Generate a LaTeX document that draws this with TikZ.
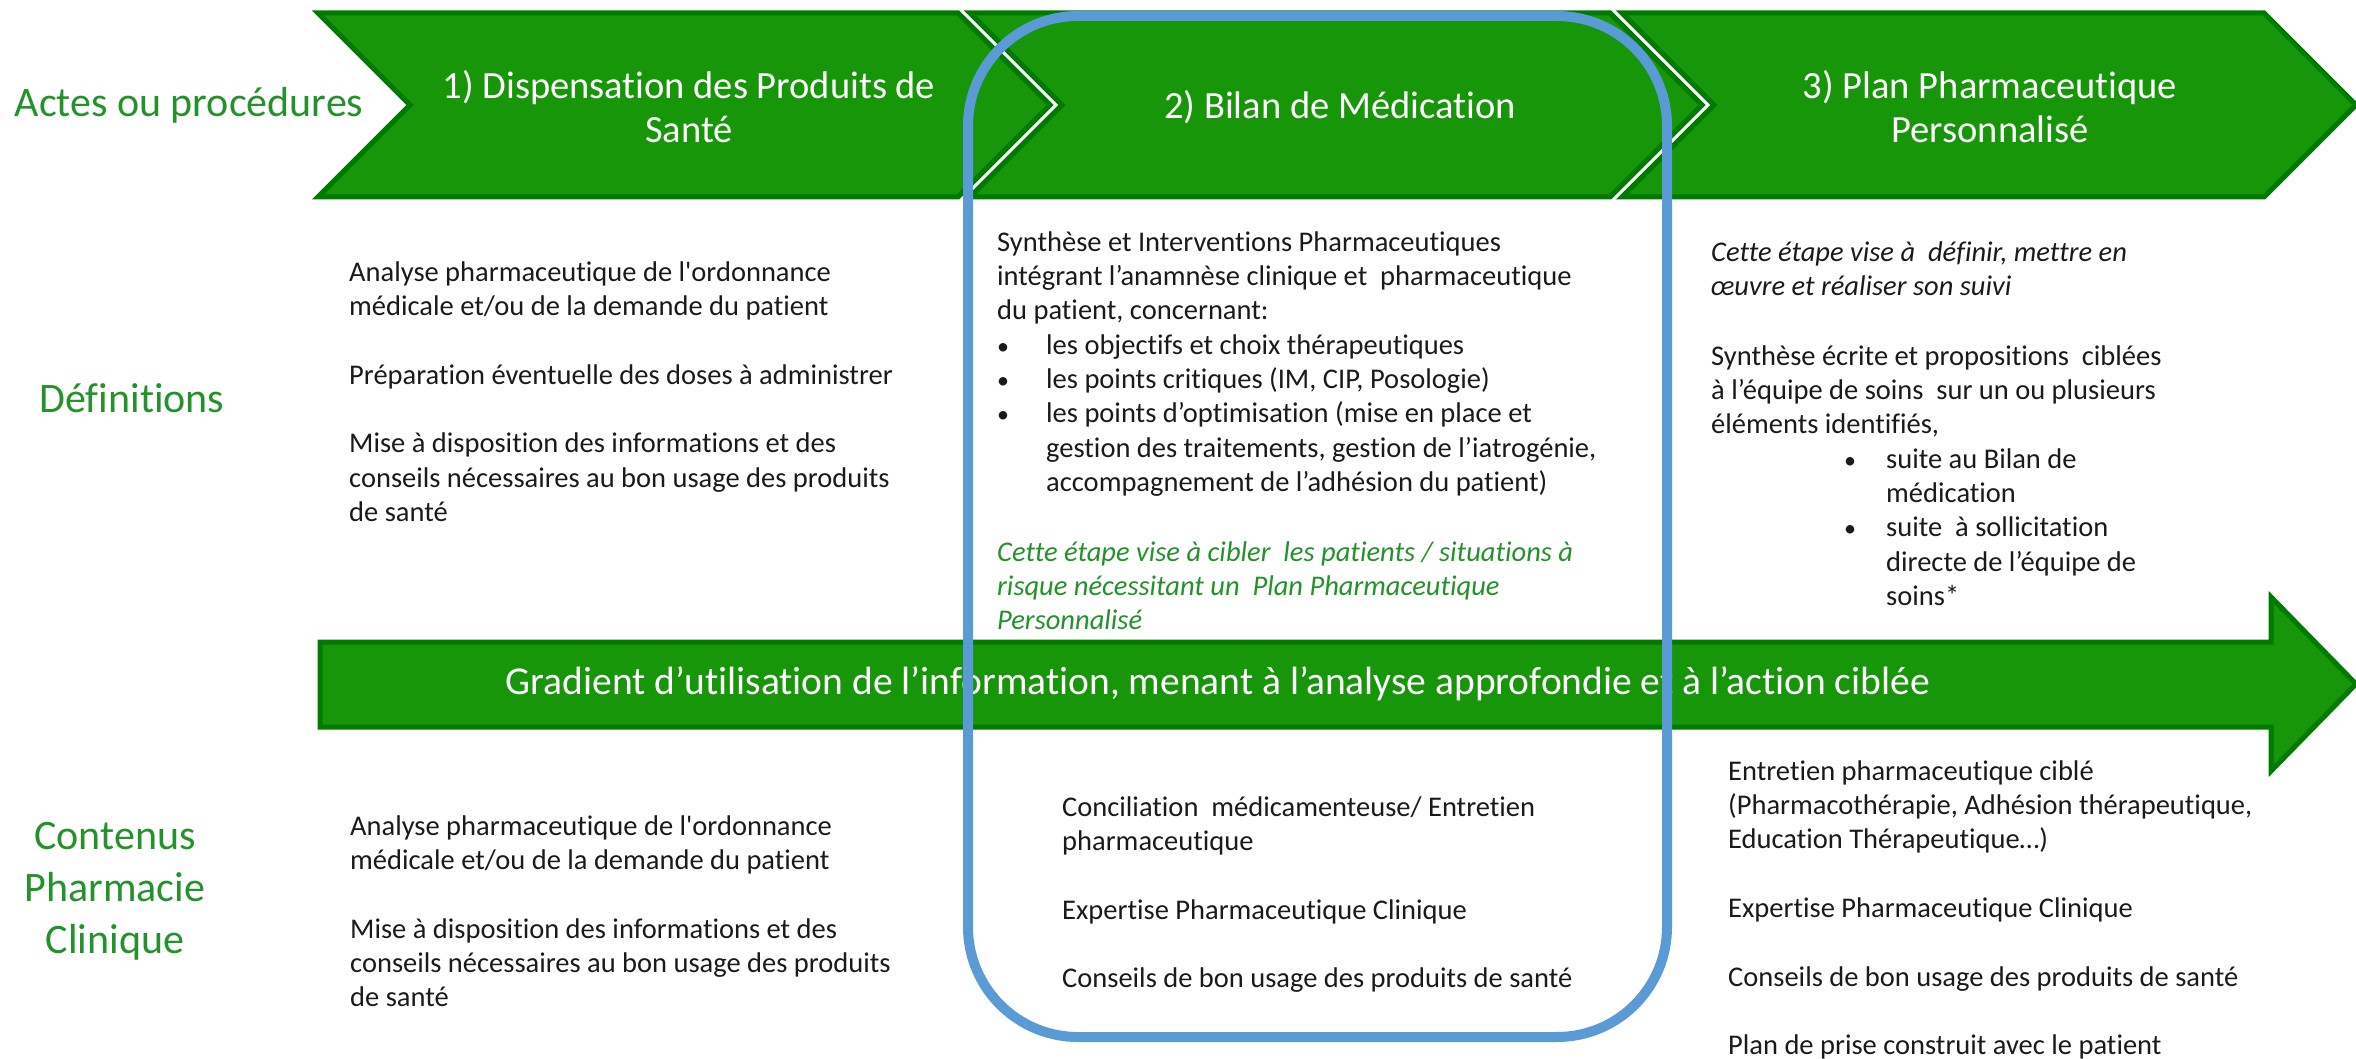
\documentclass[tikz,border=0pt]{standalone}
\usepackage{fontspec}
\setmainfont{Carlito}[Ligatures={TeX,NoCommon}]
\definecolor{gfill}{HTML}{169608}
\definecolor{gdark}{HTML}{007A00}
\definecolor{lblgreen}{HTML}{23922A}
\definecolor{frameblue}{HTML}{5B9BD5}
\definecolor{txt}{HTML}{1A1A1A}
\newcommand{\bul}{{\fontsize{24}{24}\selectfont •}}
\tikzset{
  chev/.style={fill=gfill, draw=gdark, line width=5pt, line join=miter},
  ttl/.style={text=white, font=\fontsize{38.5}{44}\selectfont, align=center, inner sep=0pt},
  lbl/.style={text=lblgreen, font=\fontsize{42}{52}\selectfont, align=center, inner sep=0pt},
  body/.style={text=txt, font=\fontsize{28.5}{34.3}\selectfont, align=left, anchor=north west, inner sep=0pt},
  gital/.style={body, text=lblgreen, font=\fontsize{28.5}{34.3}\selectfont\itshape},
  bital/.style={body, font=\fontsize{28.5}{34.3}\selectfont\itshape},
}
\begin{document}
\begin{tikzpicture}[x=1pt,y=-1pt]
\useasboundingbox (0,0) rectangle (2356,1059);
% chevrons
\path[chev] (318,13) -- (958,13) -- (1050,105) -- (958,197) -- (318,197) -- (410,105) -- cycle;
\path[chev] (970,13) -- (1610,13) -- (1702,105) -- (1610,197) -- (970,197) -- (1062,105) -- cycle;
\path[chev] (1622,13) -- (2264,13) -- (2356,105) -- (2264,197) -- (1622,197) -- (1714,105) -- cycle;
\node[ttl] (c1) at (689,107) {1) Dispensation des Produits de\\Santé};
\node[ttl] (c2) at (1340,107) {2) Bilan de Médication};
\node[ttl] (c3) at (1990,107) {3) Plan Pharmaceutique\\Personnalisé};
% gradient arrow
\path[chev] (320,642) -- (2271,642) -- (2271,597) -- (2356,684) -- (2271,771) -- (2271,727) -- (320,727) -- cycle;
\node[ttl, font=\fontsize{39.5}{44}\selectfont] (grad) at (1218,684) {Gradient d’utilisation de l’information, menant à l’analyse approfondie et à l’action ciblée};
% left labels
\node[lbl] (actes) at (189,105) {Actes ou procédures};
\node[lbl] (defs) at (132,398) {Définitions};
\node[lbl] (cont) at (115,891) {Contenus\\Pharmacie\\Clinique};
% definitions
\node[body] (d1) at (349,257) {\strut Analyse pharmaceutique de l\textquotesingle ordonnance\\médicale et/ou de la demande du patient\\[34.3pt]Préparation éventuelle des doses à administrer\\[34.3pt]Mise à disposition des informations et des\\conseils nécessaires au bon usage des produits\\de santé};
\node[body] (d2) at (997,227) {\strut Synthèse et Interventions Pharmaceutiques\\intégrant l’anamnèse clinique et\ \ pharmaceutique\\du patient, concernant:\\\makebox[49pt][l]{\bul}les objectifs et choix thérapeutiques\\\makebox[49pt][l]{\bul}les points critiques (IM, CIP, Posologie)\\\makebox[49pt][l]{\bul}les points d’optimisation (mise en place et\\\hspace*{49pt}gestion des traitements, gestion de l’iatrogénie,\\\hspace*{49pt}accompagnement de l’adhésion du patient)};
\node[gital] (d2b) at (997,537) {\strut Cette étape vise à cibler\ \ les patients / situations à\\risque nécessitant un\ \ Plan Pharmaceutique\\Personnalisé};
\node[bital] (d3a) at (1711,237) {\strut Cette étape vise à\ \ définir, mettre en\\œuvre et réaliser son suivi};
\node[body] (d3b) at (1711,341) {\strut Synthèse écrite et propositions\ \ ciblées\\à l’équipe de soins\ \ sur un ou plusieurs\\éléments identifiés,\\\hspace*{133pt}\makebox[42pt][l]{\bul}suite au Bilan de\\\hspace*{175pt}médication\\\hspace*{133pt}\makebox[42pt][l]{\bul}suite\ \ à sollicitation\\\hspace*{175pt}directe de l’équipe de\\\hspace*{175pt}soins*};
% contenus
\node[body] (p1) at (350,811) {\strut Analyse pharmaceutique de l\textquotesingle ordonnance\\médicale et/ou de la demande du patient\\[34.3pt]Mise à disposition des informations et des\\conseils nécessaires au bon usage des produits\\de santé};
\node[body] (p2) at (1062,792) {\strut Conciliation\ \ médicamenteuse/ Entretien\\pharmaceutique\\[34.3pt]Expertise Pharmaceutique Clinique\\[34.3pt]Conseils de bon usage des produits de santé};
\node[body] (p3) at (1728,756) {\strut Entretien pharmaceutique ciblé\\(Pharmacothérapie, Adhésion thérapeutique,\\Education Thérapeutique…)\\[34.3pt]Expertise Pharmaceutique Clinique\\[34.3pt]Conseils de bon usage des produits de santé\\[34.3pt]Plan de prise construit avec le patient};
% blue frame
\draw[frameblue, line width=10pt, rounded corners=110pt] (968,16) rectangle (1667,1037);
\end{tikzpicture}
\end{document}
